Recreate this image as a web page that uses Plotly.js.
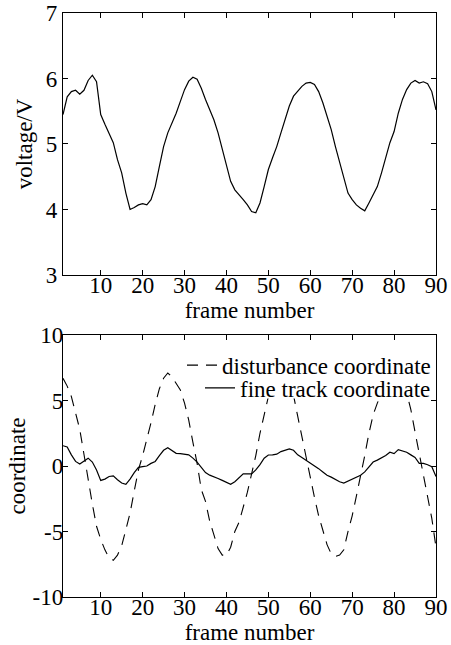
<!DOCTYPE html>
<html>
<head>
<meta charset="utf-8">
<script src="https://cdn.plot.ly/plotly-3.0.1.min.js"></script>
<style>html,body{margin:0;padding:0;background:#fff;}#chart{width:451px;height:645px;}</style>
</head>
<body>
<div id="chart"></div>
<script>
var frames = [];
for (var i = 1; i <= 90; i++) frames.push(i);

var voltage = [5.45,5.72,5.80,5.82,5.76,5.82,5.97,6.05,5.95,5.45,
5.30,5.17,5.02,4.76,4.56,4.25,4.00,4.03,4.07,4.09,
4.07,4.15,4.35,4.66,4.96,5.17,5.32,5.47,5.65,5.83,
5.96,6.02,5.99,5.85,5.68,5.52,5.37,5.17,4.91,4.66,
4.43,4.30,4.23,4.15,4.07,3.97,3.95,4.10,4.35,4.61,
4.79,4.96,5.17,5.37,5.58,5.73,5.80,5.88,5.93,5.94,
5.91,5.80,5.63,5.42,5.22,4.96,4.71,4.46,4.25,4.15,
4.07,4.02,3.98,4.10,4.23,4.35,4.56,4.81,5.02,5.19,
5.47,5.68,5.83,5.93,5.97,5.93,5.95,5.92,5.80,5.52];

var disturbance = [6.7,6.1,5.3,4.1,2.8,0.9,-1.1,-2.9,-4.6,-5.6,
-6.4,-7.0,-7.2,-6.8,-6.1,-4.9,-3.6,-1.9,-0.3,0.8,
2.0,3.3,4.7,5.9,6.7,7.1,6.8,6.3,5.8,4.8,
3.5,1.8,0.2,-1.8,-2.7,-4.2,-5.3,-6.3,-6.8,-6.8,
-6.2,-5.0,-4.3,-3.2,-2.0,-0.6,0.8,2.5,4.0,5.3,
6.2,6.8,7.0,6.8,6.2,5.4,3.8,2.2,0.8,-1.0,
-2.4,-3.8,-4.9,-6.0,-6.7,-6.9,-6.8,-6.4,-5.0,-3.8,
-2.3,-0.8,0.8,2.5,3.9,4.8,5.5,6.3,6.8,7.0,
6.9,6.4,5.6,4.3,2.6,0.9,-0.8,-2.2,-4.0,-6.2];

var fineTrack = [1.55,1.45,0.85,0.35,0.15,0.35,0.6,0.3,-0.3,-1.1,
-1.0,-0.8,-0.75,-1.05,-1.3,-1.4,-1.0,-0.5,-0.1,-0.05,
0.0,0.2,0.35,0.8,1.2,1.4,1.15,0.97,0.95,0.92,
0.85,0.6,0.3,-0.1,-0.5,-0.7,-0.8,-0.95,-1.1,-1.25,
-1.4,-1.2,-0.9,-0.6,-0.6,-0.6,-0.3,0.1,0.6,0.84,
0.85,0.9,1.1,1.2,1.3,1.2,0.85,0.65,0.45,0.25,
0.0,-0.2,-0.45,-0.7,-0.85,-1.05,-1.2,-1.3,-1.15,-1.0,
-0.85,-0.7,-0.45,-0.1,0.3,0.45,0.6,0.8,1.05,0.95,
1.25,1.15,1.05,0.85,0.65,0.2,0.2,0.1,-0.05,-0.8];

var xTicks = [10,20,30,40,50,60,70,80,90];
var vTicks = [3,4,5,6,7];
var cTicks = [-10,-5,0,5,10];

var FONT = 'Liberation Serif, Times New Roman, serif';
var FS = 23;

var traces = [
  {x: frames, y: voltage, xaxis:'x', yaxis:'y', type:'scatter', mode:'lines',
   line:{color:'#000', width:1.2}, showlegend:false, name:'voltage'},
  {x: frames, y: disturbance, xaxis:'x2', yaxis:'y2', type:'scatter', mode:'lines',
   line:{color:'#000', width:1.1, dash:'11px,8px'}, name:'disturbance coordinate', legend:'legend'},
  {x: frames, y: fineTrack, xaxis:'x2', yaxis:'y2', type:'scatter', mode:'lines',
   line:{color:'#000', width:1.2}, name:'fine track coordinate', legend:'legend2'}
];

function xax(anchor){
  return {anchor:anchor, domain:[0,1], range:[1,90], tickvals:xTicks,
    ticktext:xTicks.map(String), ticks:'inside', ticklen:5, tickcolor:'#000',
    mirror:'allticks', showline:true, linecolor:'#000', linewidth:1.2,
    showgrid:false, zeroline:false, tickfont:{size:FS, family:FONT, color:'#000'},
    ticklabelstandoff:-11,
    title:{text:'frame number', font:{size:FS, family:FONT, color:'#000'}, standoff:1}};
}
function yax(anchor, dom, rng, tv, title, lso, tso){
  return {anchor:anchor, domain:dom, range:rng, tickvals:tv,
    ticktext:tv.map(String), ticks:'inside', ticklen:5, tickcolor:'#000',
    mirror:'allticks', showline:true, linecolor:'#000', linewidth:1.2,
    showgrid:false, zeroline:false, tickfont:{size:FS, family:FONT, color:'#000'},
    ticklabelstandoff:lso,
    title:{text:title, font:{size:FS, family:FONT, color:'#000'}, standoff:tso}};
}

function leg(y){
  return {x:1, xanchor:'right', y:y, yanchor:'middle', bgcolor:'rgba(0,0,0,0)', borderwidth:0,
    font:{size:FS, family:FONT, color:'#000'}, itemwidth:30};
}

var layout = {
  width:451, height:645,
  margin:{l:63, r:15, t:13, b:48},
  paper_bgcolor:'#fff', plot_bgcolor:'#fff',
  font:{family:FONT, color:'#000'},
  xaxis: xax('y'),
  yaxis: yax('x', [0.5514,1], [3,7], vTicks, 'voltage/V', 0, 6),
  xaxis2: xax('y2'),
  yaxis2: yax('x2', [0,0.4486], [-10,10], cTicks, 'coordinate', -6, 0),
  showlegend:true,
  legend: leg(0.397),
  legend2: leg(0.358),
  shapes:[{type:'rect', xref:'paper', yref:'paper', x0:0.327, x1:0.99, y0:0.34, y1:0.423,
    fillcolor:'#fff', line:{width:0}, layer:'above'}]
};

Plotly.newPlot('chart', traces, layout, {displayModeBar:false, staticPlot:true});
</script>
</body>
</html>
